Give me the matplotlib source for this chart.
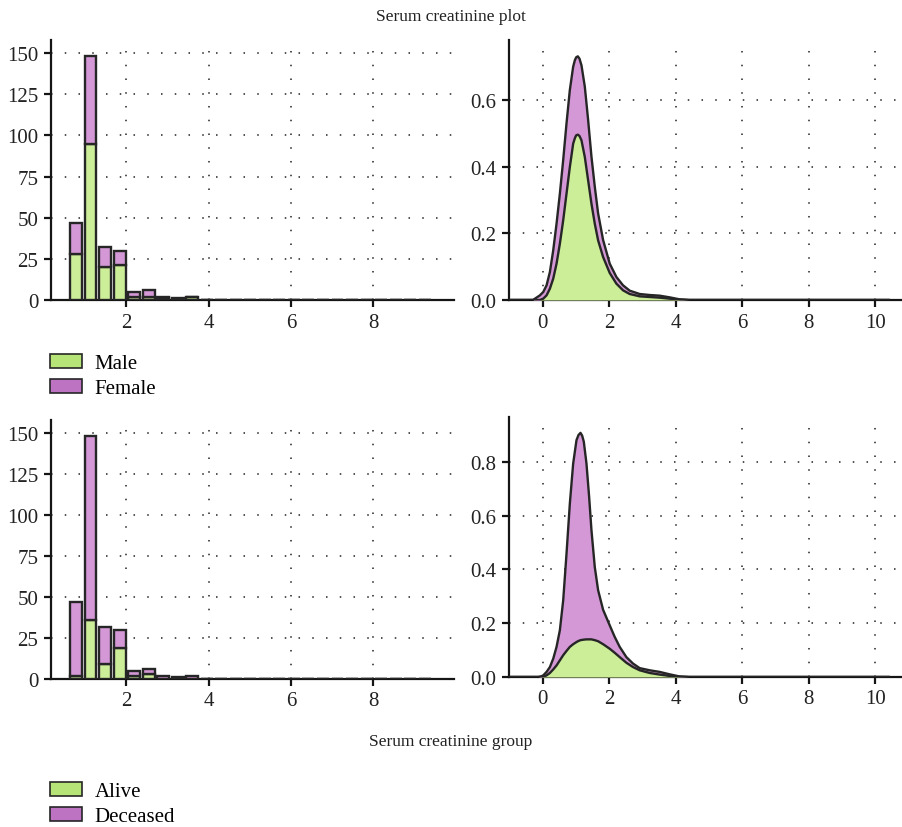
import matplotlib
matplotlib.use('Agg')
import matplotlib.pyplot as plt
from matplotlib.patches import Patch
import numpy as np

plt.rcParams['font.family'] = ['Liberation Serif', 'DejaVu Serif']

# -------------------------------------------------------------------------------------------------
# Data

# Histogram bins (serum creatinine, mg/dL)
bin_start = 0.6
bin_width = 0.353
male_counts = [28, 95, 20, 21, 2, 2, 1, 0, 2, 0, 0, 0, 0, 0, 0, 0, 0, 0, 0, 0, 0, 0, 0, 0, 0]
female_counts = [19, 53, 12, 9, 3, 4, 1, 1, 0, 0, 0, 0, 0, 0, 0, 0, 0, 0, 0, 0, 0, 0, 0, 0, 0]
alive_counts = [2, 36, 9, 19, 2, 3, 0, 0, 0, 0, 0, 0, 0, 0, 0, 0, 0, 0, 0, 0, 0, 0, 0, 0, 0]
deceased_counts = [45, 112, 23, 11, 3, 3, 2, 1, 2, 0, 0, 0, 0, 0, 0, 0, 0, 0, 0, 0, 0, 0, 0, 0, 0]

# Stacked density curves, gender
kde_x_sex = [-1.0, -0.3, -0.09, 0.01, 0.11, 0.21, 0.31, 0.41, 0.51, 0.61, 0.71, 0.81, 0.91, 0.96,
             1.0, 1.05, 1.1, 1.16, 1.26, 1.36, 1.46, 1.56, 1.66, 1.81, 2.01, 2.21, 2.41, 2.61,
             2.91, 3.21, 3.51, 3.81, 4.11, 4.4, 10.4]
kde_male = [0, 0, 0, 0.004, 0.014, 0.034, 0.064, 0.109, 0.169, 0.239, 0.319, 0.399, 0.469, 0.485,
            0.494, 0.496, 0.492, 0.479, 0.429, 0.359, 0.289, 0.229, 0.179, 0.129, 0.081, 0.049,
            0.029, 0.018, 0.011, 0.009, 0.007, 0.004, 0.001, 0, 0]
kde_female = [0, 0, 0.014, 0.020, 0.030, 0.050, 0.085, 0.120, 0.150, 0.181, 0.211, 0.231, 0.231,
              0.234, 0.234, 0.235, 0.232, 0.225, 0.211, 0.181, 0.141, 0.111, 0.081, 0.051, 0.028,
              0.020, 0.015, 0.010, 0.007, 0.006, 0.006, 0.004, 0.001, 0, 0]

# Stacked density curves, outcome
kde_x_out = [-1.0, -0.14, -0.04, 0.01, 0.11, 0.21, 0.31, 0.41, 0.51, 0.61, 0.71, 0.81, 0.91, 1.01,
             1.07, 1.13, 1.18, 1.23, 1.31, 1.39, 1.46, 1.56, 1.66, 1.81, 2.01, 2.16, 2.31, 2.51,
             2.71, 2.91, 3.21, 3.51, 3.81, 4.11, 4.4, 10.4]
kde_alive = [0, 0, 0, 0.002, 0.006, 0.015, 0.028, 0.043, 0.062, 0.081, 0.097, 0.112, 0.122, 0.130,
             0.134, 0.137, 0.138, 0.139, 0.140, 0.140, 0.140, 0.137, 0.133, 0.122, 0.105, 0.090,
             0.074, 0.053, 0.037, 0.025, 0.015, 0.009, 0.004, 0.001, 0, 0]
kde_deceased = [0, 0, 0.003, 0.004, 0.013, 0.022, 0.040, 0.069, 0.112, 0.204, 0.362, 0.533, 0.672,
                0.751, 0.766, 0.771, 0.760, 0.736, 0.654, 0.530, 0.406, 0.272, 0.190, 0.128, 0.087,
                0.059, 0.038, 0.021, 0.013, 0.008, 0.010, 0.010, 0.006, 0.001, 0, 0]

# -------------------------------------------------------------------------------------------------

green = '#cdee98'
purple = '#d498d6'
green_leg = '#b7e477'
purple_leg = '#bd72c2'
edge = '#262626'


def style_axes(ax):
    for s in ['top', 'right']:
        ax.spines[s].set_visible(False)
    for s in ['left', 'bottom']:
        ax.spines[s].set_linewidth(1.6)
        ax.spines[s].set_color('#151515')
    ax.tick_params(direction='out', length=5, width=1.6, color='#151515',
                   labelsize=15, labelcolor='#222222', pad=4)
    ax.grid(True, linestyle=(0, (1, 8)), color='#222222', linewidth=1.1)
    ax.set_axisbelow(True)


# Function for the stacked histogram
def plot_stacked_hist(ax, lower, upper):
    centers = bin_start + bin_width * (np.arange(len(lower)) + 0.5)
    lower = np.array(lower)
    upper = np.array(upper)
    ax.bar(centers, lower, width=0.29, color=green, edgecolor=edge, linewidth=1.7, zorder=3)
    ax.bar(centers, upper, bottom=lower, width=0.29, color=purple, edgecolor=edge,
           linewidth=1.7, zorder=3)
    ax.set_xlim(0.17, 9.96)
    ax.set_ylim(0, 158)
    ax.set_xticks([2, 4, 6, 8])
    ax.set_yticks([0, 25, 50, 75, 100, 125, 150])
    style_axes(ax)


# Function for the stacked density plot
def plot_stacked_kde(ax, x, lower, upper, ymax, yticks):
    x = np.array(x)
    lower = np.array(lower)
    top = lower + np.array(upper)
    ax.fill_between(x, 0, lower, color=green, linewidth=0, zorder=3)
    ax.fill_between(x, lower, top, color=purple, linewidth=0, zorder=3)
    ax.plot(x, lower, color=edge, linewidth=1.7, zorder=4)
    ax.plot(x, top, color=edge, linewidth=1.7, zorder=4)
    ax.set_xlim(-1.02, 10.8)
    ax.set_ylim(0, ymax)
    ax.set_xticks([0, 2, 4, 6, 8, 10])
    ax.set_yticks(yticks)
    style_axes(ax)


fig = plt.figure(figsize=(9.03, 8.28), dpi=100)
W, H = 903.0, 828.0


def add_ax(left, top, right, bottom):
    return fig.add_axes([left / W, 1 - bottom / H, (right - left) / W, (bottom - top) / H])


ax_tl = add_ax(51, 41, 454, 301)
ax_tr = add_ax(509, 41, 902, 301)
ax_bl = add_ax(51, 421, 454, 680)
ax_br = add_ax(509, 418, 902, 678)

plot_stacked_hist(ax_tl, male_counts, female_counts)
plot_stacked_kde(ax_tr, kde_x_sex, kde_male, kde_female, 0.78, [0.0, 0.2, 0.4, 0.6])
plot_stacked_hist(ax_bl, alive_counts, deceased_counts)
plot_stacked_kde(ax_br, kde_x_out, kde_alive, kde_deceased, 0.967, [0.0, 0.2, 0.4, 0.6, 0.8])

fig.text(451 / W, 1 - 17 / H, 'Serum creatinine plot', ha='center', va='center',
         fontsize=12.5, color='#222222')
fig.text(451 / W, 1 - 742 / H, 'Serum creatinine group', ha='center', va='center',
         fontsize=12.5, color='#222222')


def add_legend(labels, y_top):
    handles = [Patch(facecolor=green_leg, edgecolor=edge, linewidth=1.2),
               Patch(facecolor=purple_leg, edgecolor=edge, linewidth=1.2)]
    fig.legend(handles, labels, loc='upper left', bbox_to_anchor=(50 / W, 1 - y_top / H),
               frameon=False, fontsize=15, handlelength=1.55, handleheight=0.65,
               handletextpad=0.6, labelspacing=0.27, borderpad=0, borderaxespad=0)


add_legend(['Male', 'Female'], 355)
add_legend(['Alive', 'Deceased'], 783)

plt.savefig('out.png', dpi=100)
